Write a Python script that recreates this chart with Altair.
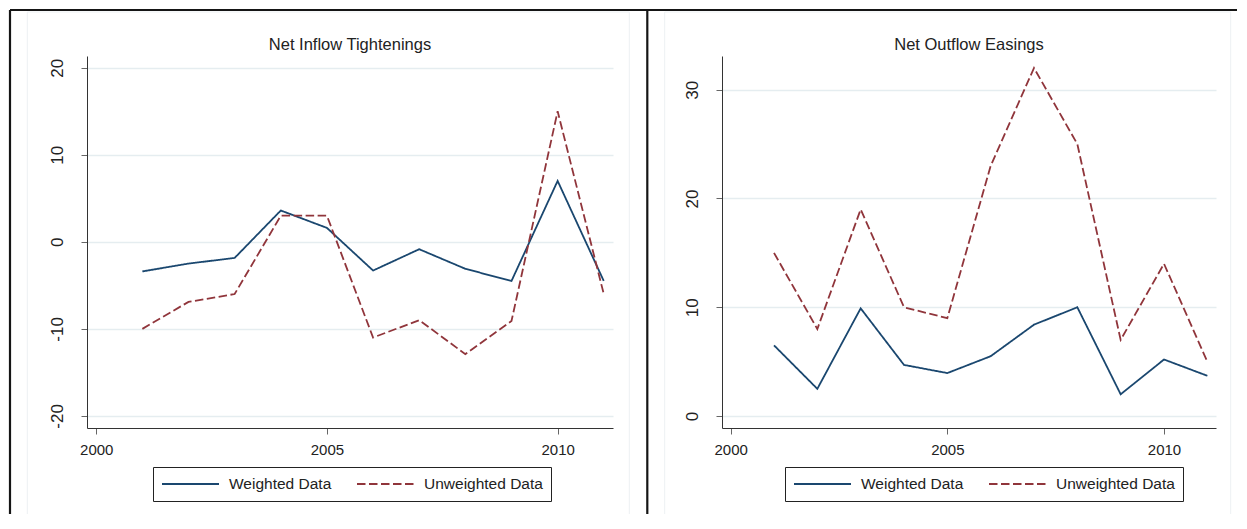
import altair as alt
import pandas as pd

years = list(range(2001, 2012))
inflow_weighted = [-3.4, -2.5, -1.85, 3.6, 1.6, -3.3, -0.85, -3.1, -4.5, 7.0, -4.5]
inflow_unweighted = [-10, -6.9, -6, 3, 3, -11, -9, -12.9, -9.1, 15, -6]
outflow_weighted = [6.5, 2.5, 9.9, 4.7, 3.95, 5.5, 8.4, 10.0, 2.0, 5.2, 3.7]
outflow_unweighted = [15, 8, 19, 10, 9, 23, 32, 25, 7, 14, 5]
series_names = ["Weighted Data", "Unweighted Data"]
panel_titles = ["Net Inflow Tightenings", "Net Outflow Easings"]
x_ticks = [2000, 2005, 2010]
inflow_ticks = [-20, -10, 0, 10, 20]
outflow_ticks = [0, 10, 20, 30]

NAVY = "#1a476f"
MAROON = "#90353b"
FONT = "Liberation Sans, Arial, sans-serif"
GRID = "#e5edf0"
FAINT = "#edf1f3"
LW = 1.8

one = pd.DataFrame({"k": [0]})


def vrule(x, y1, y2, color, w):
    return alt.Chart(one).mark_rule(color=color, strokeWidth=w).encode(
        x=alt.value(x), y=alt.value(y1), y2=alt.value(y2)
    )


def hrule(x1, x2, y, color, w):
    return alt.Chart(one).mark_rule(color=color, strokeWidth=w).encode(
        x=alt.value(x1), x2=alt.value(x2), y=alt.value(y)
    )


def title_text(text, cx):
    return alt.Chart(one).mark_text(
        font=FONT, fontSize=16.5, color="#222", align="center",
        baseline="alphabetic"
    ).encode(x=alt.value(cx), y=alt.value(-6.5), text=alt.value(text))


def panel(weighted, unweighted, title, yticks, ydomain, width, legend_x, deco):
    df = pd.DataFrame({
        "year": years * 2,
        "value": weighted + unweighted,
        "series": [series_names[0]] * len(years) + [series_names[1]] * len(years),
    })
    leg = alt.Legend(
        orient="none", legendX=legend_x, legendY=411, direction="horizontal",
        title=None, symbolType="stroke", symbolSize=3249, symbolStrokeWidth=LW,
        clipHeight=18, labelFont=FONT, labelFontSize=15.5, labelColor="#222",
        labelOffset=9, columnPadding=24, padding=8, strokeColor="#222",
        labelLimit=400,
    )
    lines = alt.Chart(df).mark_line(strokeWidth=LW).encode(
        x=alt.X("year:Q",
                scale=alt.Scale(domain=[1999.8, 2011.2], nice=False, zero=False),
                axis=alt.Axis(values=x_ticks, format="d", title=None, grid=False,
                              labelFont=FONT, labelFontSize=15,
                              labelPadding=8, labelFlush=False)),
        y=alt.Y("value:Q",
                scale=alt.Scale(domain=ydomain, nice=False, zero=False),
                axis=alt.Axis(values=yticks, title=None, grid=True,
                              gridColor=GRID, gridWidth=1.3,
                              labelExpr="'' + datum.value",
                              labelFont=FONT, labelFontSize=17, labelAngle=270,
                              labelAlign="center", labelBaseline="alphabetic",
                              labelPadding=18.5, labelFlush=False)),
        color=alt.Color("series:N",
                        scale=alt.Scale(domain=series_names, range=[NAVY, MAROON]),
                        legend=leg),
        strokeDash=alt.StrokeDash("series:N",
                                  scale=alt.Scale(domain=series_names,
                                                  range=[[1, 0], [8.5, 3.5]]),
                                  legend=leg),
    )
    return alt.layer(*deco, title_text(title, width / 2), lines).properties(
        width=width, height=372,
    )


left_deco = [
    hrule(-77, 1150, -46, "#151515", 2.2),
    vrule(-77, -46, 458, "#151515", 2.2),
    vrule(560.3, -46, 458, "#151515", 2.2),
    hrule(-59.7, 542.3, -44, FAINT, 1),
    vrule(-59.7, -44, 458, FAINT, 1),
    vrule(542.3, -44, 458, FAINT, 1),
]
right_deco = [
    hrule(-57.3, 508.7, -44, FAINT, 1),
    vrule(-57.3, -44, 458, FAINT, 1),
    vrule(508.7, -44, 458, FAINT, 1),
]

left = panel(inflow_weighted, inflow_unweighted, panel_titles[0], inflow_ticks,
             [-21.39, 21.35], 526, 66, left_deco)
right = panel(outflow_weighted, outflow_unweighted, panel_titles[1], outflow_ticks,
              [-1.1, 33.1], 494, 63, right_deco)

chart = alt.hconcat(left, right, spacing=109, bounds="flush").resolve_scale(
    x="independent", y="independent", color="independent", strokeDash="independent"
).resolve_legend(color="independent", strokeDash="independent").properties(
    padding=0, background="white"
).configure_view(stroke=None).configure_axis(
    domainColor="#333", domainWidth=1, tickColor="#666", tickWidth=1, tickSize=6,
    labelColor="#222"
)

chart.save("out.html", embed_options={"renderer": "svg", "actions": False})
